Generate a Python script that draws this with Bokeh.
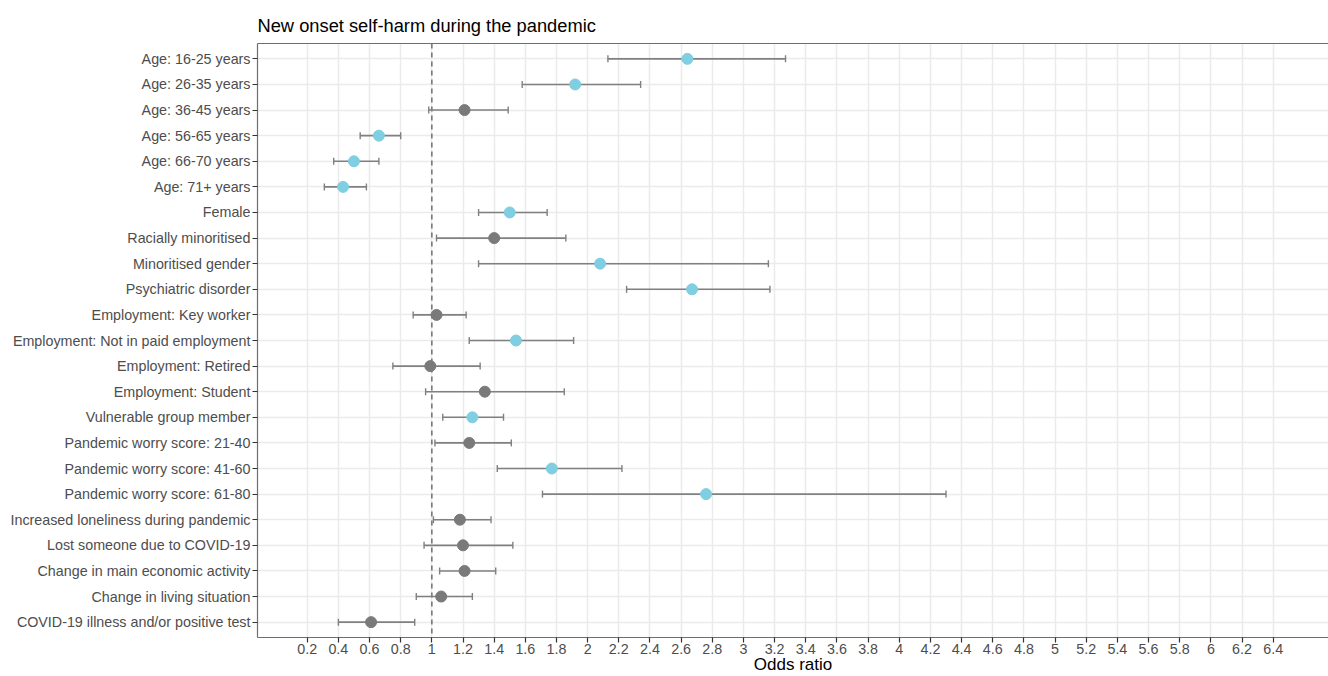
from bokeh.plotting import figure
from bokeh.models import (ColumnDataSource, Whisker, TeeHead, Span, FixedTicker,
                          CustomJSTickFormatter, LinearAxis)
from bokeh.embed import file_html
from bokeh.resources import INLINE

labels = [
    "Age: 16-25 years", "Age: 26-35 years", "Age: 36-45 years", "Age: 56-65 years",
    "Age: 66-70 years", "Age: 71+ years", "Female", "Racially minoritised",
    "Minoritised gender", "Psychiatric disorder", "Employment: Key worker",
    "Employment: Not in paid employment", "Employment: Retired", "Employment: Student",
    "Vulnerable group member", "Pandemic worry score: 21-40", "Pandemic worry score: 41-60",
    "Pandemic worry score: 61-80", "Increased loneliness during pandemic",
    "Lost someone due to COVID-19", "Change in main economic activity",
    "Change in living situation", "COVID-19 illness and/or positive test",
]
odds = [2.64, 1.92, 1.21, 0.66, 0.50, 0.43, 1.50, 1.40, 2.08, 2.67, 1.03,
        1.54, 0.99, 1.34, 1.26, 1.24, 1.77, 2.76, 1.18, 1.20, 1.21, 1.06, 0.61]
ci_low = [2.13, 1.58, 0.98, 0.54, 0.37, 0.31, 1.30, 1.03, 1.30, 2.25, 0.88,
          1.24, 0.75, 0.96, 1.07, 1.02, 1.42, 1.71, 1.01, 0.95, 1.05, 0.90, 0.40]
ci_high = [3.27, 2.34, 1.49, 0.80, 0.66, 0.58, 1.74, 1.86, 3.16, 3.17, 1.22,
           1.91, 1.31, 1.85, 1.46, 1.51, 2.22, 4.30, 1.38, 1.52, 1.41, 1.26, 0.89]
significant = [True, True, False, True, True, True, True, False, True, True, False,
               True, False, False, True, False, True, True, False, False, False, False, False]
x_ticks = [0.2, 0.4, 0.6, 0.8, 1.0, 1.2, 1.4, 1.6, 1.8, 2.0, 2.2, 2.4, 2.6, 2.8, 3.0, 3.2,
           3.4, 3.6, 3.8, 4.0, 4.2, 4.4, 4.6, 4.8, 5.0, 5.2, 5.4, 5.6, 5.8, 6.0, 6.2, 6.4]
x_title = "Odds ratio"

n = len(labels)
ypos = [n - i for i in range(n)]
colors = ["#80CEE1" if s else "#7A7A7A" for s in significant]

src = ColumnDataSource(dict(y=ypos, odds=odds, lo=ci_low, hi=ci_high, color=colors))

FONT = "Liberation Sans"
p = figure(width=1328, height=676, x_range=(-0.119, 6.755), y_range=(0.4, n + 0.6),
           output_backend="svg", toolbar_location=None,
           min_border_left=257, min_border_right=0, min_border_top=43, min_border_bottom=39,
           title="New onset self-harm during the pandemic")
p.title.text_font = FONT
p.title.text_font_size = "18.3px"
p.title.text_font_style = "normal"
p.title.text_color = "#000000"
p.title.offset = 0
p.title.standoff = 16
p.outline_line_color = None
p.background_fill_color = "white"
p.border_fill_color = "white"

# grid
p.xgrid.ticker = FixedTicker(ticks=x_ticks)
p.ygrid.ticker = FixedTicker(ticks=ypos)
for g in (p.xgrid, p.ygrid):
    g.grid_line_color = "#EBEBEB"
    g.grid_line_width = 1.5
    g.minor_grid_line_color = None

# axes
xa = p.xaxis[0]
xa.ticker = FixedTicker(ticks=x_ticks)
xa.formatter = CustomJSTickFormatter(code="return String(Number(tick.toFixed(1)));")
xa.axis_label = x_title
ya = p.yaxis[0]
ya.ticker = FixedTicker(ticks=ypos)
ya.major_label_overrides = {y: lab for y, lab in zip(ypos, labels)}
for ax in (xa, ya):
    ax.axis_line_color = "#6E6E6E"
    ax.axis_line_width = 1.2
    ax.major_tick_line_color = "#333333"
    ax.major_tick_line_width = 1.2
    ax.major_tick_out = 5
    ax.major_tick_in = 0
    ax.minor_tick_line_color = None
    ax.major_label_text_font = FONT
    ax.major_label_text_font_size = "14.3px"
    ax.major_label_text_color = "#4D4D4D"
    ax.major_label_standoff = 2
xa.major_label_standoff = 1
xa.axis_label_text_font = FONT
xa.axis_label_text_font_size = "17px"
xa.axis_label_text_font_style = "normal"
xa.axis_label_text_color = "#000000"
xa.axis_label_standoff = -2

top = LinearAxis(ticker=FixedTicker(ticks=[]), axis_line_color="#6E6E6E", axis_line_width=1.2,
                 major_tick_line_color=None, minor_tick_line_color=None,
                 major_label_text_font_size="0px")
p.add_layout(top, "above")

ref = Span(location=1, dimension="height", line_color="#707070", line_width=1.5,
           line_dash="5 4", level="underlay")
p.add_layout(ref)

wh = Whisker(source=src, base="y", lower="lo", upper="hi", dimension="width",
             line_color="#808080", line_width=1.6, level="underlay",
             lower_head=TeeHead(size=7, line_color="#808080", line_width=1.4),
             upper_head=TeeHead(size=7, line_color="#808080", line_width=1.4))
p.add_layout(wh)

p.scatter(x="odds", y="y", source=src, size=11, fill_color="color", line_color="color")

open("out.html", "w").write(file_html(p, INLINE))
